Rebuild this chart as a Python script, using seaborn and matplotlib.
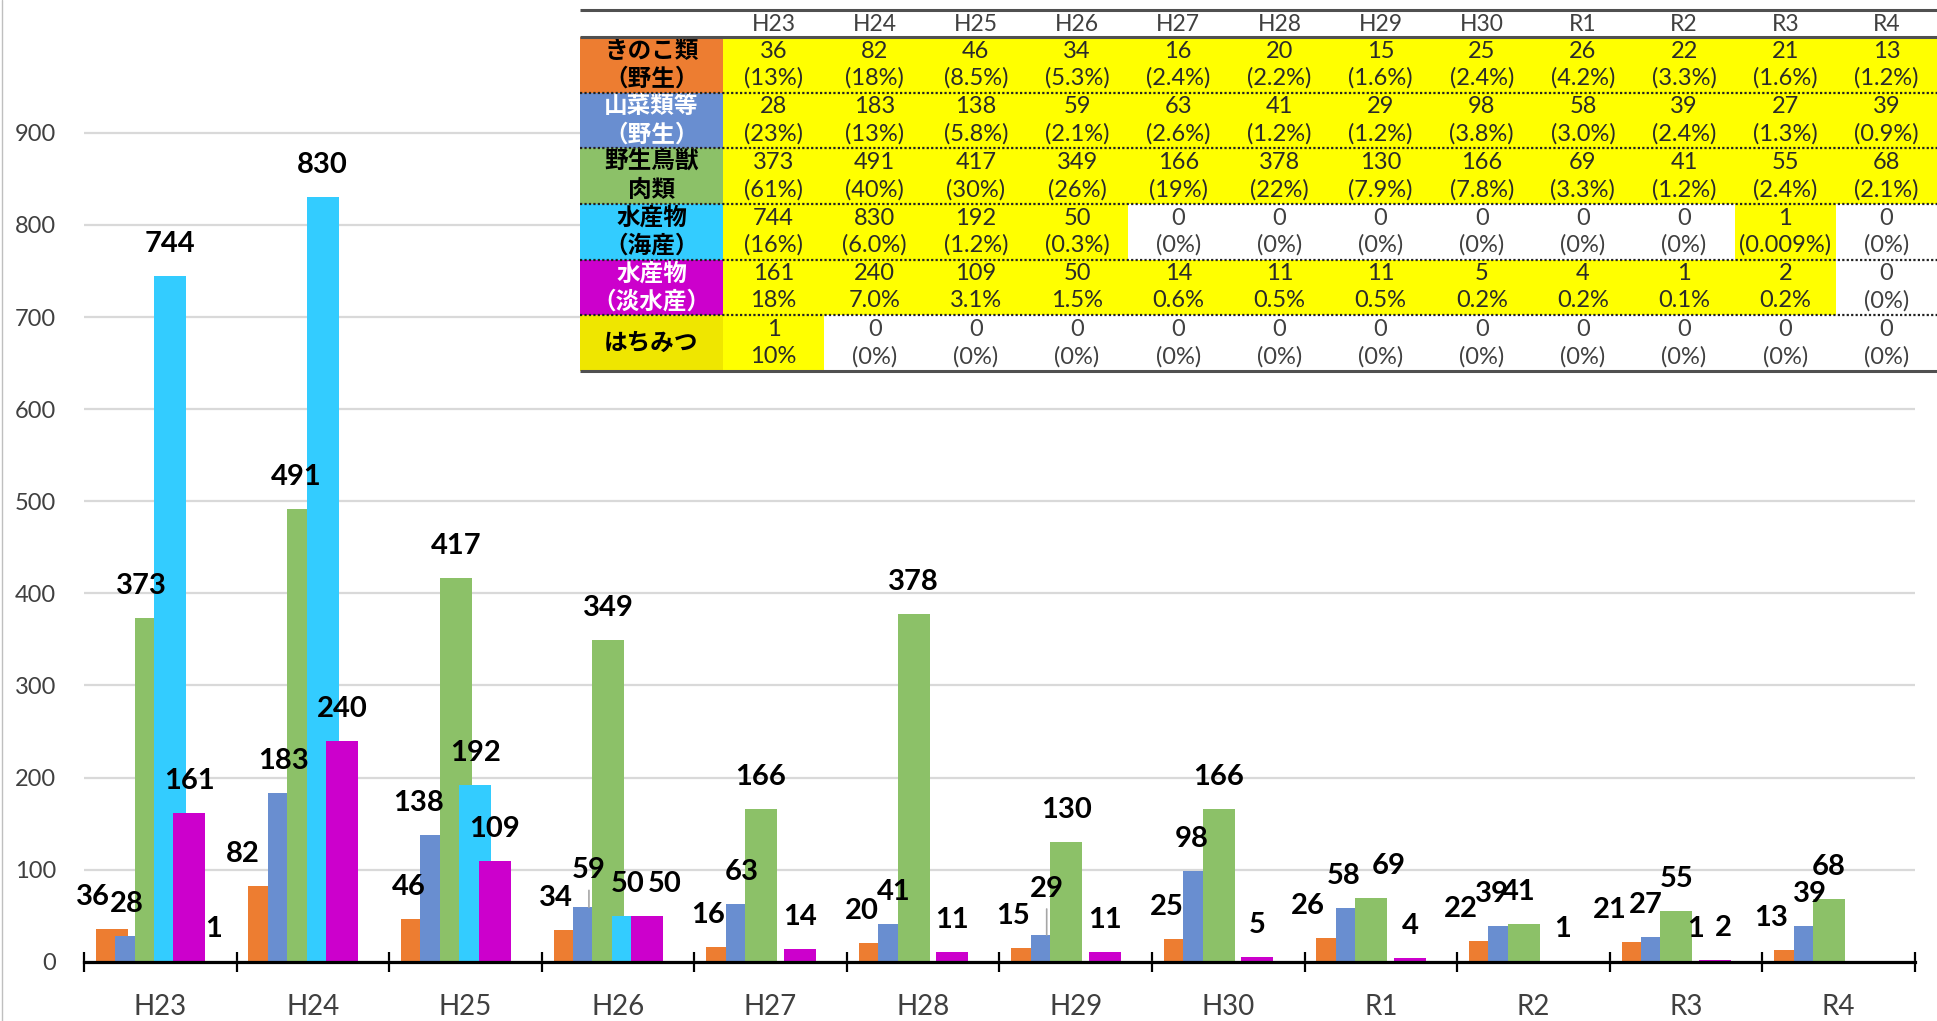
import numpy as np
import pandas as pd
import matplotlib
matplotlib.use("Agg")
import matplotlib.pyplot as plt
import seaborn as sns
from matplotlib.patches import Rectangle
from matplotlib.lines import Line2D

# ---------------- data ----------------
years = ["H23", "H24", "H25", "H26", "H27", "H28", "H29", "H30", "R1", "R2", "R3", "R4"]
series_names = ["きのこ類（野生）", "山菜類等（野生）", "野生鳥獣肉類",
                "水産物（海産）", "水産物（淡水産）", "はちみつ"]
row_labels = [["きのこ類", "（野生）"], ["山菜類等", "（野生）"], ["野生鳥獣", "肉類"],
              ["水産物", "（海産）"], ["水産物", "（淡水産）"], ["はちみつ"]]

kinoko = [36, 82, 46, 34, 16, 20, 15, 25, 26, 22, 21, 13]
sansai = [28, 183, 138, 59, 63, 41, 29, 98, 58, 39, 27, 39]
choju = [373, 491, 417, 349, 166, 378, 130, 166, 69, 41, 55, 68]
kaisan = [744, 830, 192, 50, 0, 0, 0, 0, 0, 0, 1, 0]
tansui = [161, 240, 109, 50, 14, 11, 11, 5, 4, 1, 2, 0]
hachimitsu = [1, 0, 0, 0, 0, 0, 0, 0, 0, 0, 0, 0]

kinoko_pct = ["(13%)", "(18%)", "(8.5%)", "(5.3%)", "(2.4%)", "(2.2%)", "(1.6%)", "(2.4%)", "(4.2%)", "(3.3%)", "(1.6%)", "(1.2%)"]
sansai_pct = ["(23%)", "(13%)", "(5.8%)", "(2.1%)", "(2.6%)", "(1.2%)", "(1.2%)", "(3.8%)", "(3.0%)", "(2.4%)", "(1.3%)", "(0.9%)"]
choju_pct = ["(61%)", "(40%)", "(30%)", "(26%)", "(19%)", "(22%)", "(7.9%)", "(7.8%)", "(3.3%)", "(1.2%)", "(2.4%)", "(2.1%)"]
kaisan_pct = ["(16%)", "(6.0%)", "(1.2%)", "(0.3%)", "(0%)", "(0%)", "(0%)", "(0%)", "(0%)", "(0%)", "(0.009%)", "(0%)"]
tansui_pct = ["18%", "7.0%", "3.1%", "1.5%", "0.6%", "0.5%", "0.5%", "0.2%", "0.2%", "0.1%", "0.2%", "(0%)"]
hachimitsu_pct = ["10%", "(0%)", "(0%)", "(0%)", "(0%)", "(0%)", "(0%)", "(0%)", "(0%)", "(0%)", "(0%)", "(0%)"]

values = [kinoko, sansai, choju, kaisan, tansui, hachimitsu]
pcts = [kinoko_pct, sansai_pct, choju_pct, kaisan_pct, tansui_pct, hachimitsu_pct]

# ---------------- styles ----------------
colors = ["#ED7D31", "#698ED0", "#8CC168", "#33CCFF", "#CC00CC", "#EFE600"]
label_cell_colors = ["#ED7D31", "#698ED0", "#8CC168", "#33CCFF", "#CC00CC", "#EFE600"]
label_text_colors = ["black", "white", "black", "black", "white", "black"]

# manual label nudges (px): (series, year) -> dx ; dy
NUDGE_X = {(0, 0): -19, (0, 1): -22, (0, 2): -8, (0, 3): -14, (0, 4): -14, (0, 5): -13,
           (0, 6): -14, (0, 7): -13, (0, 8): -25, (0, 9): -24, (0, 10): -28, (0, 11): -19,
           (1, 0): -4, (1, 2): -18, (1, 7): -8, (1, 8): -8, (1, 9): -12, (1, 10): -11,
           (2, 0): -9, (2, 1): -7, (2, 8): 17, (2, 9): -5,
           (4, 3): 17, (4, 10): 8, (5, 0): 5}
NUDGE_Y = {(1, 3): 5, (1, 6): 14}
LEADERS = {(1, 3), (1, 6)}

W, H = 1937, 1021
PX = 0.72  # points per pixel at dpi 100

sns.set_style("white")
plt.rcParams["font.family"] = ["Lato", "Noto Sans CJK JP", "DejaVu Sans"]

fig = plt.figure(figsize=(W / 100, H / 100), dpi=100)
fig.patch.set_facecolor("white")

ax_left, ax_right, ax_base = 84, 1915, 961.7
ax = fig.add_axes([ax_left / W, (H - ax_base) / H, (ax_right - ax_left) / W, ax_base / H])

df = pd.DataFrame({
    "year": [y for s in series_names for y in years],
    "series": [s for s in series_names for _ in years],
    "value": [v for vals in values for v in vals],
})

step_px = 19.4
cat_px = (ax_right - ax_left) / len(years)
sns.barplot(data=df, x="year", y="value", hue="series", order=years,
            hue_order=series_names, palette=dict(zip(series_names, colors)),
            width=6 * step_px / cat_px, dodge=True, errorbar=None, saturation=1,
            linewidth=0, legend=False, ax=ax)

bar_w = 32 / cat_px
for si, cont in enumerate(ax.containers):
    for p in cont.patches:
        c = p.get_x() + p.get_width() / 2
        p.set_x(c - bar_w / 2)
        p.set_width(bar_w)
        h = p.get_height()
        if not np.isfinite(h) or h <= 0:
            continue
        yi = int(round(c))
        dx = NUDGE_X.get((si, yi), 0)
        dy = NUDGE_Y.get((si, yi), 0)
        ax.annotate(f"{int(round(h))}", xy=(c, h), xytext=(dx * PX, (32 + dy) * PX),
                    textcoords="offset points", ha="center", va="center",
                    fontsize=21, fontweight="bold", color="black", zorder=6,
                    fontfamily=["Lato", "DejaVu Sans"])
        if (si, yi) in LEADERS:
            ax.annotate("", xy=(c, h), xytext=(0, (32 + dy - 20) * PX),
                        textcoords="offset points",
                        arrowprops=dict(arrowstyle="-", color="#A6A6A6", lw=1.2,
                                        shrinkA=0, shrinkB=0), zorder=5)

ax.set_xlim(-0.5, len(years) - 0.5)
ax.set_ylim(0, ax_base / (92.1 / 100))
ax.set_xlabel("")
ax.set_ylabel("")
ax.set_yticks(range(0, 1000, 100))
ax.set_xticks(range(len(years)))
ax.set_xticklabels(years)
ax.set_xticks(np.arange(-0.5, len(years), 1), minor=True)
ax.tick_params(axis="x", which="major", bottom=True, length=0, pad=23, labelsize=20, labelcolor="#404040")
ax.tick_params(axis="x", which="minor", bottom=True, direction="inout", length=15, width=1.6, color="black")
ax.tick_params(axis="y", length=0, pad=20, labelsize=17, labelcolor="#404040")
ax.set_axisbelow(True)
ax.yaxis.grid(True, color="#D9D9D9", lw=1.6)
ax.xaxis.grid(False)
for s in ["left", "right", "top"]:
    ax.spines[s].set_visible(False)
ax.spines["bottom"].set_color("black")
ax.spines["bottom"].set_linewidth(2.3)

# left chart border
fig.add_artist(Line2D([1.5 / W, 1.5 / W], [0, 1], transform=fig.transFigure, color="#BFBFBF", lw=1))

# ---------------- table overlay ----------------
tab = fig.add_axes([0, 0, 1, 1], zorder=10)
tab.set_xlim(0, W)
tab.set_ylim(H, 0)
tab.axis("off")
tab.patch.set_alpha(0)

tx0, lab_w = 580, 143
tx1 = W
col_w = (tx1 - (tx0 + lab_w)) / len(years)
y_top, y_head = 10, 37
row_h = (371 - y_head) / len(series_names)

tab.add_patch(Rectangle((tx0, y_top), tx1 - tx0, 371 - y_top, facecolor="white", edgecolor="none", zorder=1))

num_font = ["Liberation Sans Narrow", "Lato", "DejaVu Sans"]
cjk_font = ["Noto Sans CJK JP", "DejaVu Sans"]
for j, yr in enumerate(years):
    cx = tx0 + lab_w + (j + 0.5) * col_w
    tab.text(cx, (y_top + y_head) / 2 + 1, yr, ha="center", va="center", fontsize=16.5,
             color="#404040", fontfamily=num_font, zorder=4)

for i, lines in enumerate(row_labels):
    ry = y_head + i * row_h
    tab.add_patch(Rectangle((tx0, ry), lab_w, row_h, facecolor=label_cell_colors[i],
                            edgecolor="none", zorder=2))
    if len(lines) == 1:
        ys = [ry + row_h / 2]
    else:
        ys = [ry + 13.5, ry + 42]
    for txt, yy in zip(lines, ys):
        tab.text(tx0 + lab_w / 2, yy, txt, ha="center", va="center",
                 fontsize=17, fontweight="bold", color=label_text_colors[i],
                 fontfamily=cjk_font, zorder=4)
    for j in range(len(years)):
        cx0 = tx0 + lab_w + j * col_w
        v = values[i][j]
        if v > 0:
            tab.add_patch(Rectangle((cx0, ry), col_w, row_h, facecolor="#FFFF00",
                                    edgecolor="none", zorder=2))
        tcol = "#2a2a2a" if v > 0 else "#404040"
        tab.text(cx0 + col_w / 2, ry + 14, f"{v}", ha="center", va="center", fontsize=17,
                 color=tcol, fontfamily=num_font, zorder=4)
        tab.text(cx0 + col_w / 2, ry + 41, pcts[i][j], ha="center", va="center", fontsize=17,
                 color=tcol, fontfamily=num_font, zorder=4)
    if i > 0:
        tab.plot([tx0, tx1], [ry, ry], color="#222222", lw=1.6, ls=(0, (1, 1)), zorder=5)

for yy in (y_top, y_head, 371):
    tab.plot([tx0, tx1], [yy, yy], color="#505050", lw=2.2, zorder=5, solid_capstyle="butt")

fig.savefig("out.png", dpi=100, facecolor="white")
